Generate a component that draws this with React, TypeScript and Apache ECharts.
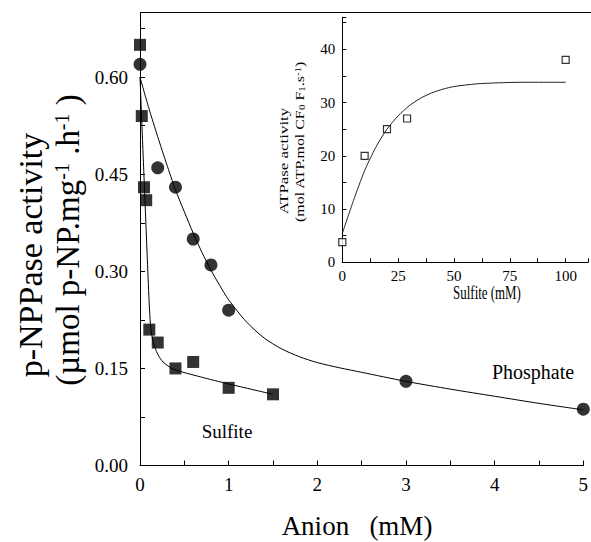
import React, { useEffect, useRef } from "react";
import * as echarts from "echarts";

// Main plot: p-NPPase activity vs anion concentration
const phosphateX = [0, 0.2, 0.4, 0.6, 0.8, 1.0, 3.0, 5.0];
const phosphateY = [0.62, 0.46, 0.43, 0.35, 0.31, 0.24, 0.13, 0.087];
const sulfiteX = [0, 0.02, 0.045, 0.07, 0.105, 0.2, 0.4, 0.6, 1.0, 1.5];
const sulfiteY = [0.65, 0.54, 0.43, 0.41, 0.21, 0.19, 0.15, 0.16, 0.12, 0.11];

// fitted curves
const phosphateFitX = [0, 0.1, 0.2, 0.3, 0.4, 0.5, 0.6, 0.7, 0.8, 0.9, 1.0, 1.2, 1.4, 1.6, 1.8, 2.0, 2.25, 2.5, 3.0, 3.5, 4.0, 4.5, 5.0];
const phosphateFitY = [0.6, 0.552, 0.508, 0.466, 0.426, 0.392, 0.359, 0.329, 0.302, 0.278, 0.256, 0.222, 0.197, 0.18, 0.168, 0.159, 0.151, 0.144, 0.13, 0.118, 0.107, 0.096, 0.086];
const sulfiteFitX = [0, 0.05, 0.1, 0.12, 0.15, 0.2, 0.26, 0.375, 0.68, 1.0, 1.5];
const sulfiteFitY = [0.6, 0.43, 0.262, 0.215, 0.19, 0.172, 0.16, 0.149, 0.137, 0.126, 0.11];

// Inset: ATPase activity vs sulfite
const insetX = [0, 10, 20, 29, 100];
const insetY = [3.8, 20, 25, 27, 38];
const insetFitX = [0, 5, 10, 15, 20, 25, 30, 35, 40, 45, 50, 60, 70, 80, 90, 100];
const insetFitY = [5.4, 11.6, 17.2, 21.6, 25.0, 27.5, 29.4, 30.8, 31.8, 32.5, 33.0, 33.5, 33.7, 33.8, 33.8, 33.8];

const FONT = '"Liberation Serif", "Times New Roman", serif';

const zip = (xs: number[], ys: number[]) => xs.map((x, i) => [x, ys[i]]);
const isMult = (v: number, m: number) => Math.abs(v / m - Math.round(v / m)) < 1e-6;

export default function App() {
  const ref = useRef<HTMLDivElement>(null);
  useEffect(() => {
    if (!ref.current) return;
    const chart = echarts.init(ref.current, undefined, { renderer: "svg" });
    const axisLine = { show: true, lineStyle: { color: "#000", width: 1 } };
    const option: any = {
      animation: false,
      backgroundColor: "#fff",
      grid: [
        { left: 140, top: 12.5, width: 443.3, height: 453, containLabel: false, outerBoundsMode: "none" },
        { left: 342.3, top: 17.3, width: 245.7, height: 245, containLabel: false, outerBoundsMode: "none" },
      ],
      xAxis: [
        {
          gridIndex: 0, type: "value", min: 0, max: 5, interval: 0.5,
          axisLine, splitLine: { show: false },
          axisTick: { inside: true, length: 5, lineStyle: { color: "#000" } },
          axisLabel: {
            color: "#000", fontFamily: FONT, fontSize: 19, margin: 9,
            formatter: (v: number) => (isMult(v, 1) ? String(v) : ""),
          },
        },
        {
          gridIndex: 1, type: "value", min: 0, max: 110, interval: 12.5,
          axisLine, splitLine: { show: false },
          axisTick: { inside: true, length: 4, lineStyle: { color: "#000" } },
          axisLabel: {
            color: "#000", fontFamily: FONT, fontSize: 15, margin: 6,
            formatter: (v: number) => (isMult(v, 25) && v <= 100 ? String(v) : ""),
          },
        },
        {
          gridIndex: 1, type: "value", min: 0, max: 110, position: "top",
          axisLine, splitLine: { show: false }, axisTick: { show: false }, axisLabel: { show: false },
        },
      ],
      yAxis: [
        {
          gridIndex: 0, type: "value", min: 0, max: 0.7, interval: 0.075,
          axisLine, splitLine: { show: false },
          axisTick: { inside: true, length: 5, lineStyle: { color: "#000" } },
          axisLabel: {
            color: "#000", fontFamily: FONT, fontSize: 19, margin: 12,
            formatter: (v: number) => (isMult(v, 0.15) ? v.toFixed(2) : ""),
          },
        },
        {
          gridIndex: 1, type: "value", min: 0, max: 46, interval: 5,
          axisLine, splitLine: { show: false },
          axisTick: { inside: true, length: 4, lineStyle: { color: "#000" } },
          axisLabel: {
            color: "#000", fontFamily: FONT, fontSize: 15, margin: 7,
            formatter: (v: number) => (isMult(v, 10) ? String(v) : ""),
          },
        },
        {
          gridIndex: 1, type: "value", min: 0, max: 46, position: "right",
          axisLine, splitLine: { show: false }, axisTick: { show: false }, axisLabel: { show: false },
        },
      ],
      series: [
        {
          type: "line", xAxisIndex: 0, yAxisIndex: 0, data: zip(phosphateFitX, phosphateFitY),
          showSymbol: false, smooth: 0.25,
          lineStyle: { color: "#000", width: 1 }, silent: true,
        },
        {
          type: "line", xAxisIndex: 0, yAxisIndex: 0, data: zip(sulfiteFitX, sulfiteFitY),
          showSymbol: false, smooth: 0.25,
          lineStyle: { color: "#000", width: 1 }, silent: true,
        },
        {
          type: "scatter", xAxisIndex: 0, yAxisIndex: 0, data: zip(phosphateX, phosphateY),
          symbol: "circle", symbolSize: 13, itemStyle: { color: "#000" },
        },
        {
          type: "scatter", xAxisIndex: 0, yAxisIndex: 0, data: zip(sulfiteX, sulfiteY),
          symbol: "rect", symbolSize: 12, itemStyle: { color: "#000" },
        },
        {
          type: "line", xAxisIndex: 1, yAxisIndex: 1, data: zip(insetFitX, insetFitY),
          showSymbol: false, smooth: 0.25,
          lineStyle: { color: "#222", width: 1 }, silent: true,
        },
        {
          type: "scatter", xAxisIndex: 1, yAxisIndex: 1, data: zip(insetX, insetY),
          symbol: "rect", symbolSize: 7,
          itemStyle: { color: "#fff", borderColor: "#000", borderWidth: 1.2 },
        },
      ],
      graphic: [
        {
          type: "line", shape: { x1: 140, y1: 12.5, x2: 591, y2: 12.5 },
          style: { stroke: "#000", lineWidth: 1 }, silent: true,
        },
        {
          type: "text", x: 30, y: 255, rotation: Math.PI / 2,
          style: {
            text: "p-NPPase activity", fontFamily: FONT, fontSize: 34, fill: "#000",
            textAlign: "center", textVerticalAlign: "middle",
          },
        },
        {
          type: "text", x: 68, y: 240, rotation: Math.PI / 2,
          style: {
            text: "(µmol p-NP.mg{sup|-1} .h{sup|-1} )", fontFamily: FONT, fontSize: 33, fill: "#000",
            textAlign: "center", textVerticalAlign: "middle",
            rich: { sup: { fontFamily: FONT, fontSize: 20, verticalAlign: "top", fill: "#000" } },
          },
        },
        {
          type: "text", x: 357, y: 526,
          style: {
            text: "Anion   (mM)", fontFamily: FONT, fontSize: 27, fill: "#000",
            textAlign: "center", textVerticalAlign: "middle",
          },
        },
        {
          type: "text", x: 227, y: 431,
          style: {
            text: "Sulfite", fontFamily: FONT, fontSize: 19, fill: "#000",
            textAlign: "center", textVerticalAlign: "middle",
          },
        },
        {
          type: "text", x: 533, y: 372,
          style: {
            text: "Phosphate", fontFamily: FONT, fontSize: 20, fill: "#000",
            textAlign: "center", textVerticalAlign: "middle",
          },
        },
        {
          type: "text", x: 487, y: 293, scaleX: 0.68,
          style: {
            text: "Sulfite (mM)", fontFamily: FONT, fontSize: 19, fill: "#000",
            textAlign: "center", textVerticalAlign: "middle",
          },
        },
        {
          type: "text", x: 284, y: 161, rotation: Math.PI / 2, scaleX: 1.3,
          style: {
            text: "ATPase activity", fontFamily: FONT, fontSize: 13, fill: "#000",
            textAlign: "center", textVerticalAlign: "middle",
          },
        },
        {
          type: "text", x: 300, y: 142, rotation: Math.PI / 2, scaleX: 1.22,
          style: {
            text: "(mol ATP.mol CF{sub|0} F{sub|1}.s{sup|-1})", fontFamily: FONT, fontSize: 13, fill: "#000",
            textAlign: "center", textVerticalAlign: "middle",
            rich: {
              sub: { fontFamily: FONT, fontSize: 9, verticalAlign: "bottom", fill: "#000" },
              sup: { fontFamily: FONT, fontSize: 9, verticalAlign: "top", fill: "#000" },
            },
          },
        },
      ],
    };
    chart.setOption(option);
    return () => chart.dispose();
  }, []);
  return (
    <div
      ref={ref}
      style={{ position: "fixed", left: 0, top: 0, width: 591, height: 542, background: "#fff" }}
    />
  );
}
